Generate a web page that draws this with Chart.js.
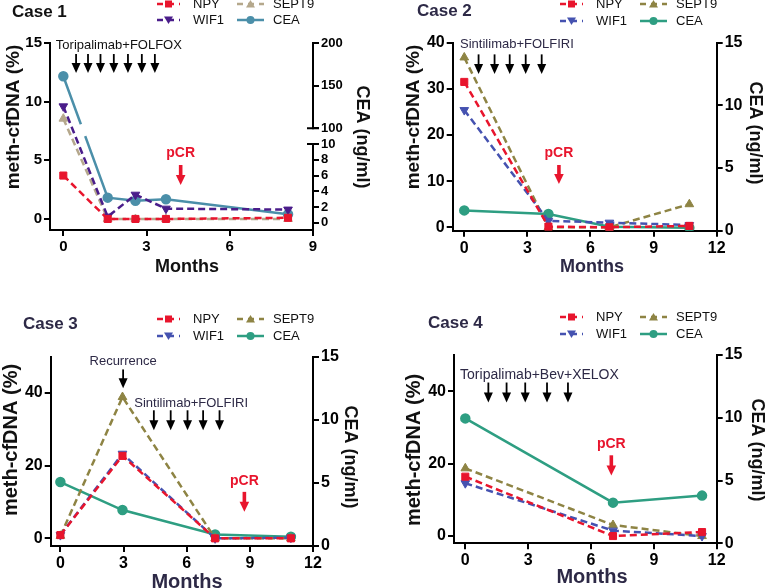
<!DOCTYPE html>
<html>
<head>
<meta charset="utf-8">
<script src="https://cdn.jsdelivr.net/npm/chart.js@4.4.1/dist/chart.umd.min.js"></script>
<style>
  body { margin: 0; background: #fff; width: 765px; height: 588px; position: relative; overflow: hidden; }
  canvas { position: absolute; }
</style>
</head>
<body>
<canvas id="c0"></canvas>
<canvas id="c1"></canvas>
<canvas id="c2"></canvas>
<canvas id="c3"></canvas>
<script>
// ---- data ----
// Case 1
const months1 = [0, 1.6, 2.6, 3.7, 8.1];
const npy1 = [3.7, 0, 0, 0, 0.1];
const wif1Case1 = [9.6, 0.2, 2.07, 0.88, 0.8];
const sept9Case1 = [8.55, 0, 0, 0, 0];
const cea1 = [161, 3.2, 2.8, 3.0, 1.1];
// Case 2
const months2 = [0, 4.0, 6.9, 10.7];
const npy2 = [31.5, 0.15, 0, 0.3];
const wif1Case2 = [25.4, 1.4, 1.0, 0.5];
const sept9Case2 = [36.8, 0, 0, 5.0];
const cea2 = [1.62, 1.33, 0.32, 0.24];
// Case 3
const months3 = [0, 2.95, 7.35, 10.95];
const npy3 = [0.9, 22.7, 0, 0];
const wif1Case3 = [0.9, 23.3, 0, 0.2];
const sept9Case3 = [0.7, 38.9, 0, 0];
const cea3 = [5.07, 2.85, 0.92, 0.74];
// Case 4
const months4 = [0, 7.05, 11.3];
const npy4 = [16.4, 0, 1.1];
const wif1Case4 = [14.6, 1.5, 0];
const sept9Case4 = [18.7, 3.05, 0];
const cea4 = [9.95, 3.24, 3.8];

// tick labels
const xTicks9 = [0, 3, 6, 9];
const xTicks12 = [0, 3, 6, 9, 12];
const yTicks1 = [0, 5, 10, 15];
const yTicks2 = [0, 10, 20, 30, 40];
const yTicks34 = [0, 20, 40];
const ceaTicks1 = [0, 2, 4, 6, 8, 10, 100, 150, 200];
const ceaTicks = [0, 5, 10, 15];

// case 1 CEA axis is broken: 0-10 below, 100-200 above
function ceaAxis1(v) { return v <= 10 ? v : 12 + (v - 100) * 0.108; }
function identity(v) { return v; }

const FONT = '"Liberation Sans", Arial, sans-serif';
const RED = '#e8152d';
const NAVY = '#2d2946';

const panels = [
  {
    id: 'c0', ox: 0, oy: 0, w: 382, h: 294, area: { l: 50, r: 313, t: 43, b: 230 },
    months: months1, npy: npy1, wif1: wif1Case1, sept9: sept9Case1, cea: cea1, ceaMap: ceaAxis1,
    xMin: -0.48, xMax: 9, xTicks: xTicks9,
    yMin: -0.94, yMax: 15, yTicks: yTicks1,
    rMin: -0.9, rMax: 22.8, rTicks: ceaTicks1,
    colors: { npy: RED, wif1: '#4a1d8a', sept9: '#b5a88c', cea: '#4b8fa9' },
    textColor: '#111', tickSize: 15, rTickSize: 13, noteSize: 13,
    title: { t: 'Case 1', x: 12, y: 12, size: 17 },
    legend: { x: 157, x2: 237, y1: 4, y2: 20 },
    leftTitle: { x: 14, y: 117, size: 19 },
    rightTitle: { x: 362, y: 137, size: 18 },
    months_t: { x: 187, y: 267, size: 18 },
    texts: [{ t: 'Toripalimab+FOLFOX', x: -0.27, y: 14.83 }],
    arrows: [{ xs: [0.46, 0.89, 1.34, 1.82, 2.33, 2.83, 3.3], y1: 14.06, y2: 12.44 }],
    pcr: { x: 4.23, ty: 5.63, y1: 4.6, y2: 2.9 },
    broken: true
  },
  {
    id: 'c1', ox: 382, oy: 0, w: 383, h: 294, area: { l: 452.7, r: 716.7, t: 42.7, b: 230.7 },
    months: months2, npy: npy2, wif1: wif1Case2, sept9: sept9Case2, cea: cea2, ceaMap: identity,
    xMin: -0.55, xMax: 12, xTicks: xTicks12,
    yMin: -0.74, yMax: 40, yTicks: yTicks2,
    rMin: 0, rMax: 15, rTicks: ceaTicks,
    colors: { npy: RED, wif1: '#4552b0', sept9: '#8e8444', cea: '#2e9e82' },
    textColor: NAVY, tickSize: 16, rTickSize: 16, noteSize: 13,
    title: { t: 'Case 2', x: 417, y: 11, size: 17 },
    legend: { x: 560, x2: 640, y1: 4, y2: 21 },
    leftTitle: { x: 414, y: 117, size: 19 },
    rightTitle: { x: 755, y: 133, size: 18 },
    months_t: { x: 592, y: 267, size: 18 },
    texts: [{ t: 'Sintilimab+FOLFIRI', x: -0.2, y: 39.6 }],
    arrows: [{ xs: [0.68, 1.44, 2.16, 2.92, 3.68], y1: 37.47, y2: 33.2 }],
    pcr: { x: 4.5, ty: 16.1, y1: 13.5, y2: 9.4 }
  },
  {
    id: 'c2', ox: 0, oy: 294, w: 382, h: 294, area: { l: 50.7, r: 313, t: 356.7, b: 546 },
    months: months3, npy: npy3, wif1: wif1Case3, sept9: sept9Case3, cea: cea3, ceaMap: identity,
    xMin: -0.46, xMax: 12, xTicks: xTicks12,
    yMin: -2.1, yMax: 50, yTicks: yTicks34,
    rMin: 0, rMax: 15, rTicks: ceaTicks,
    colors: { npy: RED, wif1: '#4552b0', sept9: '#8e8444', cea: '#2e9e82' },
    textColor: NAVY, tickSize: 16, rTickSize: 16, noteSize: 13,
    title: { t: 'Case 3', x: 23, y: 324, size: 17 },
    legend: { x: 157, x2: 237, y1: 319, y2: 336 },
    leftTitle: { x: 11, y: 440, size: 20 },
    rightTitle: { x: 350, y: 457, size: 18 },
    months_t: { x: 187, y: 582, size: 20 },
    texts: [
      { t: 'Recurrence', x: 2.98, y: 48.7, align: 'center' },
      { t: 'Sintilimab+FOLFIRI', x: 3.51, y: 37.2 }
    ],
    arrows: [
      { xs: [2.98], y1: 46.5, y2: 41.3 },
      { xs: [4.44, 5.24, 6.04, 6.78, 7.56], y1: 35.25, y2: 29.75 }
    ],
    pcr: { x: 8.74, ty: 15.8, y1: 12.8, y2: 7.3 }
  },
  {
    id: 'c3', ox: 382, oy: 294, w: 383, h: 294, area: { l: 454, r: 716.7, t: 355, b: 543.3 },
    months: months4, npy: npy4, wif1: wif1Case4, sept9: sept9Case4, cea: cea4, ceaMap: identity,
    xMin: -0.54, xMax: 12, xTicks: xTicks12,
    yMin: -2.0, yMax: 50, yTicks: yTicks34,
    rMin: 0, rMax: 15, rTicks: ceaTicks,
    colors: { npy: RED, wif1: '#4552b0', sept9: '#8e8444', cea: '#2e9e82' },
    textColor: NAVY, tickSize: 16, rTickSize: 16, noteSize: 14,
    title: { t: 'Case 4', x: 428, y: 323, size: 17 },
    legend: { x: 560, x2: 640, y1: 317, y2: 334 },
    leftTitle: { x: 414, y: 450, size: 20 },
    rightTitle: { x: 757, y: 450, size: 18 },
    months_t: { x: 592, y: 577, size: 20 },
    texts: [{ t: 'Toripalimab+Bev+XELOX', x: -0.25, y: 44.3 }],
    arrows: [{ xs: [1.1, 1.97, 2.86, 3.9, 4.9], y1: 42.4, y2: 36.9 }],
    pcr: { x: 6.97, ty: 25.5, y1: 22.3, y2: 16.7 }
  }
];

function drawMarker(ctx, style, x, y, color) {
  ctx.save();
  ctx.fillStyle = color;
  ctx.beginPath();
  if (style === 'square') {
    ctx.rect(x - 3.5, y - 3.5, 7, 7);
  } else if (style === 'down') {
    ctx.moveTo(x - 4.5, y - 3.5); ctx.lineTo(x + 4.5, y - 3.5); ctx.lineTo(x, y + 4);
  } else if (style === 'up') {
    ctx.moveTo(x - 4.5, y + 3.5); ctx.lineTo(x + 4.5, y + 3.5); ctx.lineTo(x, y - 4);
  } else {
    ctx.arc(x, y, 4, 0, Math.PI * 2);
  }
  ctx.closePath();
  ctx.fill();
  ctx.restore();
}

function legendItem(ctx, x, y, w, color, dashed, style, text, tx) {
  ctx.save();
  ctx.strokeStyle = color;
  ctx.lineWidth = 2.5;
  ctx.setLineDash(dashed ? [6, 5] : []);
  ctx.beginPath();
  ctx.moveTo(x, y); ctx.lineTo(x + w, y);
  ctx.stroke();
  ctx.restore();
  drawMarker(ctx, style, x + w / 2, y, color);
  ctx.fillStyle = '#111';
  ctx.font = '13px ' + FONT;
  ctx.textAlign = 'left';
  ctx.textBaseline = 'middle';
  ctx.fillText(text, tx, y);
}

function blackArrow(ctx, x, y1, y2) {
  ctx.save();
  ctx.strokeStyle = '#000';
  ctx.fillStyle = '#000';
  ctx.lineWidth = 1.8;
  ctx.beginPath();
  ctx.moveTo(x, y1); ctx.lineTo(x, y2 - 8);
  ctx.stroke();
  ctx.beginPath();
  ctx.moveTo(x - 4.5, y2 - 10); ctx.lineTo(x + 4.5, y2 - 10); ctx.lineTo(x, y2);
  ctx.closePath();
  ctx.fill();
  ctx.restore();
}

function redArrow(ctx, x, y1, y2) {
  ctx.save();
  ctx.fillStyle = RED;
  ctx.fillRect(x - 1.8, y1, 3.6, y2 - y1 - 8);
  ctx.beginPath();
  ctx.moveTo(x - 4.8, y2 - 10); ctx.lineTo(x + 4.8, y2 - 10); ctx.lineTo(x, y2);
  ctx.closePath();
  ctx.fill();
  ctx.restore();
}

const overlay = {
  id: 'overlay',
  afterDatasetsDraw(chart) {
    const p = panels[+chart.canvas.dataset.idx];
    if (!p.broken) return;
    // gap in the CEA line where it crosses the axis break
    const ctx = chart.ctx;
    const pts = chart.getDatasetMeta(3).data;
    const a = pts[0], b = pts[1];
    const yA = chart.scales.y2.getPixelForValue(12.5);
    const yB = chart.scales.y2.getPixelForValue(11.0);
    const fA = (yA - a.y) / (b.y - a.y), fB = (yB - a.y) / (b.y - a.y);
    ctx.save();
    ctx.strokeStyle = '#fff';
    ctx.lineWidth = 6;
    ctx.beginPath();
    ctx.moveTo(a.x + fA * (b.x - a.x), yA);
    ctx.lineTo(a.x + fB * (b.x - a.x), yB);
    ctx.stroke();
    ctx.restore();
  },
  afterDraw(chart) {
    const p = panels[+chart.canvas.dataset.idx];
    const ctx = chart.ctx;
    const sx = chart.scales.x, sy = chart.scales.y, sr = chart.scales.y2;
    const ox = p.ox, oy = p.oy;
    ctx.save();

    if (p.broken) {
      const top = sr.getPixelForValue(ceaAxis1(100));
      const bot = sr.getPixelForValue(10);
      const xr = chart.chartArea.right;
      ctx.fillStyle = '#fff';
      ctx.fillRect(xr - 3, top + 1, 6, bot - top - 2);
      ctx.strokeStyle = '#000';
      ctx.lineWidth = 2;
      ctx.beginPath();
      ctx.moveTo(xr - 6, top); ctx.lineTo(xr + 6, top);
      ctx.moveTo(xr - 6, bot); ctx.lineTo(xr + 6, bot);
      ctx.stroke();
    }

    // title
    ctx.fillStyle = p.textColor;
    ctx.font = 'bold ' + p.title.size + 'px ' + FONT;
    ctx.textAlign = 'left';
    ctx.textBaseline = 'middle';
    ctx.fillText(p.title.t, p.title.x - ox, p.title.y - oy);

    // legend
    const L = p.legend;
    legendItem(ctx, L.x - ox, L.y1 - oy, 23, p.colors.npy, true, 'square', 'NPY', L.x - ox + 36);
    legendItem(ctx, L.x - ox, L.y2 - oy, 23, p.colors.wif1, true, 'down', 'WIF1', L.x - ox + 36);
    legendItem(ctx, L.x2 - ox, L.y1 - oy, 27, p.colors.sept9, true, 'up', 'SEPT9', L.x2 - ox + 36);
    legendItem(ctx, L.x2 - ox, L.y2 - oy, 27, p.colors.cea, false, 'circle', 'CEA', L.x2 - ox + 36);

    // axis titles
    ctx.textAlign = 'center';
    ctx.textBaseline = 'middle';
    ctx.save();
    ctx.translate(p.leftTitle.x - ox, p.leftTitle.y - oy);
    ctx.rotate(-Math.PI / 2);
    ctx.font = 'bold ' + p.leftTitle.size + 'px ' + FONT;
    ctx.fillStyle = '#111';
    ctx.fillText('meth-cfDNA (%)', 0, 0);
    ctx.restore();
    ctx.save();
    ctx.translate(p.rightTitle.x - ox, p.rightTitle.y - oy);
    ctx.rotate(Math.PI / 2);
    ctx.font = 'bold ' + p.rightTitle.size + 'px ' + FONT;
    ctx.fillStyle = '#111';
    ctx.fillText('CEA (ng/ml)', 0, 0);
    ctx.restore();
    ctx.font = 'bold ' + p.months_t.size + 'px ' + FONT;
    ctx.fillStyle = p.textColor;
    ctx.fillText('Months', p.months_t.x - ox, p.months_t.y - oy);

    // treatment annotations
    ctx.font = p.noteSize + 'px ' + FONT;
    p.texts.forEach(t => {
      ctx.textAlign = t.align || 'left';
      ctx.fillStyle = p.textColor;
      ctx.fillText(t.t, sx.getPixelForValue(t.x), sy.getPixelForValue(t.y));
    });
    p.arrows.forEach(g => {
      g.xs.forEach(m => blackArrow(ctx, sx.getPixelForValue(m), sy.getPixelForValue(g.y1), sy.getPixelForValue(g.y2)));
    });
    const c = p.pcr;
    ctx.font = 'bold 14px ' + FONT;
    ctx.textAlign = 'center';
    ctx.fillStyle = RED;
    ctx.fillText('pCR', sx.getPixelForValue(c.x), sy.getPixelForValue(c.ty));
    redArrow(ctx, sx.getPixelForValue(c.x), sy.getPixelForValue(c.y1), sy.getPixelForValue(c.y2));

    ctx.restore();
  }
};

function axisStyle(size) {
  return {
    grid: { display: true, drawOnChartArea: false, drawTicks: true, tickLength: 6, color: '#000', lineWidth: 2 },
    border: { display: true, color: '#000', width: 2 },
    ticks: { color: '#000', font: { family: FONT, size: size, weight: 'bold' }, padding: 2, autoSkip: false, maxRotation: 0 }
  };
}

function makeChart(p, idx) {
  const canvas = document.getElementById(p.id);
  canvas.width = p.w; canvas.height = p.h;
  canvas.style.left = p.ox + 'px'; canvas.style.top = p.oy + 'px';
  canvas.style.width = p.w + 'px'; canvas.style.height = p.h + 'px';
  canvas.dataset.idx = idx;

  const pts = arr => p.months.map((m, i) => ({ x: m, y: arr[i] }));
  const dashed = (label, arr, color, style, rot) => ({
    label, data: pts(arr), yAxisID: 'y',
    borderColor: color, backgroundColor: color, borderWidth: 2.5, borderDash: [7, 4],
    pointStyle: style, pointRotation: rot, pointRadius: 5,
    pointBorderColor: color, pointBackgroundColor: color, pointBorderWidth: 1, tension: 0
  });

  const xs = axisStyle(p.tickSize), ys = axisStyle(p.tickSize), rs = axisStyle(p.rTickSize);

  new Chart(canvas, {
    type: 'line',
    data: {
      datasets: [
        dashed('NPY', p.npy, p.colors.npy, 'rect', 0),
        dashed('WIF1', p.wif1, p.colors.wif1, 'triangle', 180),
        dashed('SEPT9', p.sept9, p.colors.sept9, 'triangle', 0),
        {
          label: 'CEA', data: pts(p.cea.map(p.ceaMap)), yAxisID: 'y2',
          borderColor: p.colors.cea, backgroundColor: p.colors.cea, borderWidth: 2.5,
          pointStyle: 'circle', pointRadius: 4, pointBorderColor: p.colors.cea,
          pointBackgroundColor: p.colors.cea, tension: 0
        }
      ]
    },
    options: {
      responsive: false,
      animation: false,
      events: [],
      layout: { padding: { top: p.area.t - p.oy, left: 0, right: 0, bottom: 0 } },
      plugins: { legend: { display: false }, tooltip: { enabled: false }, title: { display: false } },
      scales: {
        x: Object.assign(xs, {
          type: 'linear', min: p.xMin, max: p.xMax,
          afterBuildTicks: s => { s.ticks = p.xTicks.map(v => ({ value: v })); },
          afterFit: s => { s.height = p.oy + p.h - p.area.b; }
        }),
        y: Object.assign(ys, {
          type: 'linear', position: 'left', min: p.yMin, max: p.yMax,
          afterBuildTicks: s => { s.ticks = p.yTicks.map(v => ({ value: v })); },
          afterFit: s => { s.width = p.area.l - p.ox; }
        }),
        y2: Object.assign(rs, {
          type: 'linear', position: 'right', min: p.rMin, max: p.rMax,
          afterBuildTicks: s => { s.ticks = p.rTicks.map(v => ({ value: p.ceaMap(v) })); },
          afterFit: s => { s.width = p.ox + p.w - p.area.r; }
        })
      }
    },
    plugins: [overlay]
  });
  // tick label text: map axis value back to the CEA value
  const ch = Chart.getChart(canvas);
  ch.options.scales.y2.ticks.callback = val => {
    const hit = p.rTicks.find(v => Math.abs(p.ceaMap(v) - val) < 1e-6);
    return hit === undefined ? '' : String(hit);
  };
  ch.update();
}

panels.forEach((p, i) => makeChart(p, i));
</script>
</body>
</html>
